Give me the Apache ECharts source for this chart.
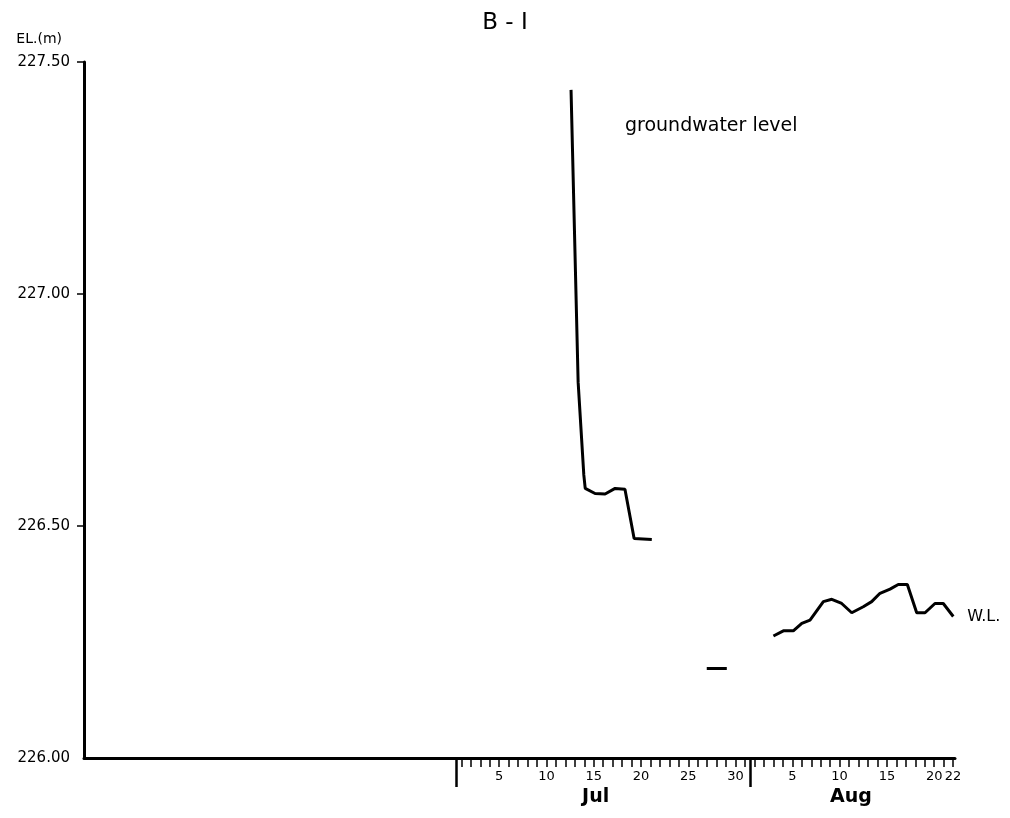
<!DOCTYPE html>
<html>
<head>
<meta charset="utf-8">
<script src="https://cdn.jsdelivr.net/npm/echarts@6/dist/echarts.min.js"></script>
<style>html,body{margin:0;padding:0;background:#fff}#c{width:1010px;height:818px}</style>
</head>
<body>
<div id="c"></div>
<script>
// Day index: Jul 1 = 1, Aug 1 = 32
const tickDays = [1,2,3,4,5,6,7,8,9,10,11,12,13,14,15,16,17,18,19,20,21,22,23,24,25,26,27,28,29,30,31,
  32,33,34,35,36,37,38,39,40,41,42,43,44,45,46,47,48,49,50,51,52,53];
const labelDays = [5,10,15,20,25,30,36,41,46,51,53];
const labelTexts = ['5','10','15','20','25','30','5','10','15','20','22'];
const monthBoundaries = [0.5, 31.5];
const monthCenters = [15.2, 42.2];
const monthNames = ['Jul','Aug'];
const yTickValues = [226.5, 227.0, 227.5];

// groundwater level (July)
const gwDays   = [12.6, 13.35, 13.95, 14.1, 15.14, 16.2, 17.26, 18.3, 19.27, 21.14];
const gwLevels = [227.44, 226.81, 226.61, 226.581, 226.570, 226.569, 226.581, 226.579, 226.473, 226.471];

// short segment (late July)
const segDays   = [26.95, 29.07];
const segLevels = [226.193, 226.193];

// W.L. (August)
const wlDays   = [34.0, 35.05, 36.1, 37.0, 37.87, 39.28, 40.17, 41.22, 42.28, 43.5, 44.39, 45.27, 46.33, 47.2, 48.16, 49.15, 50.03, 51.08, 51.96, 53.02];
const wlLevels = [226.263, 226.274, 226.274, 226.290, 226.297, 226.337, 226.342, 226.333, 226.313, 226.326, 226.337, 226.355, 226.364, 226.374, 226.374, 226.313, 226.313, 226.333, 226.333, 226.305];

const zip = (a, b) => a.map((v, i) => [v, b[i]]);
const FONT = 'DejaVu Sans';
const X_MIN = -38.9, X_MAX = 53.2;

const chart = echarts.init(document.getElementById('c'), null, {renderer: 'canvas'});
chart.setOption({
  animation: false,
  backgroundColor: '#fff',
  title: {
    text: 'B - I', left: 'center', top: 7,
    textStyle: {fontFamily: FONT, fontSize: 23, fontWeight: 'normal', color: '#000'}
  },
  grid: {left: 84, right: 55, top: 62, bottom: 60},
  xAxis: [
    {
      type: 'value', min: X_MIN, max: X_MAX, position: 'bottom',
      axisLine: {show: true, onZero: false, lineStyle: {color: '#000', width: 3}},
      axisTick: {show: true, customValues: tickDays, length: 9, lineStyle: {color: '#000', width: 1.5}},
      axisLabel: {
        customValues: labelDays, margin: 12,
        fontFamily: FONT, fontSize: 13, color: '#000',
        formatter: v => { const i = labelDays.indexOf(v); return i >= 0 ? labelTexts[i] : ''; }
      },
      splitLine: {show: false}
    },
    {
      type: 'value', min: X_MIN, max: X_MAX, position: 'bottom',
      axisLine: {show: false},
      axisTick: {show: true, customValues: monthBoundaries, length: 29, lineStyle: {color: '#000', width: 2.5}},
      axisLabel: {
        customValues: monthCenters, margin: 30,
        fontFamily: FONT, fontSize: 19, fontWeight: 'bold', color: '#000',
        formatter: v => { const i = monthCenters.indexOf(v); return i >= 0 ? monthNames[i] : ''; }
      },
      splitLine: {show: false}
    }
  ],
  yAxis: {
    type: 'value', min: 226, max: 227.5, interval: 0.5,
    name: 'EL.(m)', nameLocation: 'end', nameGap: 16,
    nameTextStyle: {fontFamily: FONT, fontSize: 14, color: '#000', align: 'right', padding: [0, 22, 0, 0]},
    axisLine: {show: true, onZero: false, lineStyle: {color: '#000', width: 3}},
    axisTick: {show: true, customValues: yTickValues, length: 7, lineStyle: {color: '#000', width: 1.5}},
    axisLabel: {margin: 14, fontFamily: FONT, fontSize: 15, color: '#000', formatter: v => v.toFixed(2)},
    splitLine: {show: false}
  },
  graphic: [
    {type: 'text', left: 625, top: 117,
     style: {text: 'groundwater level', fontFamily: FONT, fontSize: 19, fill: '#000'}}
  ],
  series: [
    {type: 'line', name: 'groundwater level', data: zip(gwDays, gwLevels), symbol: 'none',
     lineStyle: {color: '#000', width: 3}},
    {type: 'line', name: 'segment', data: zip(segDays, segLevels), symbol: 'none',
     lineStyle: {color: '#000', width: 3}},
    {type: 'line', name: 'W.L.', data: zip(wlDays, wlLevels), symbol: 'none',
     lineStyle: {color: '#000', width: 3},
     endLabel: {show: true, formatter: 'W.L.', distance: 14, fontFamily: FONT, fontSize: 16, color: '#000'}}
  ]
});
</script>
</body>
</html>
